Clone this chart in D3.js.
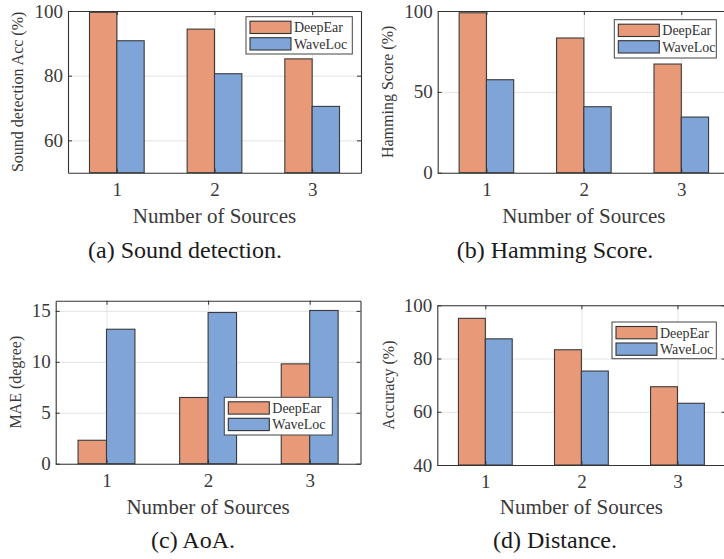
<!DOCTYPE html>
<html>
<head>
<meta charset="utf-8">
<script src="https://cdn.jsdelivr.net/npm/d3@7"></script>
<style>
  body { margin: 0; background: #fff; }
</style>
</head>
<body>
<svg id="fig" width="724" height="559"></svg>
<script>
// categories and series
const sources = [1, 2, 3];
const seriesNames = ["DeepEar", "WaveLoc"];
const seriesColors = ["#e89a78", "#7fa4d8"];

// values
const detectDeepEar = [99.6, 94.4, 85.2];
const detectWaveLoc = [90.8, 80.6, 70.5];
const hammingDeepEar = [98.9, 83.3, 67.2];
const hammingWaveLoc = [57.5, 40.8, 34.4];
const aoaDeepEar = [2.3, 6.5, 9.8];
const aoaWaveLoc = [13.2, 14.84, 15.04];
const distDeepEar = [95.1, 83.3, 69.4];
const distWaveLoc = [87.4, 75.3, 63.2];

// tick labels
const detectTicks = [60, 80, 100];
const hammingTicks = [0, 50, 100];
const aoaTicks = [0, 5, 10, 15];
const distTicks = [40, 60, 80, 100];

const FONT = '"Liberation Serif", "Times New Roman", "DejaVu Serif", serif';

const panels = [
  { box: [68, 11, 361, 172.7], yDomain: [50, 100], yTicks: detectTicks,
    values: [detectDeepEar, detectWaveLoc], ylabel: "Sound detection Acc (%)", ylabelX: 23,
    caption: "(a) Sound detection.", capX: 185, capY: 258, xlabY: 222.7,
    legend: [246, 16.7, 106.3, 37.3] },
  { box: [437.7, 11, 730, 172.7], yDomain: [0, 100], yTicks: hammingTicks,
    values: [hammingDeepEar, hammingWaveLoc], ylabel: "Hamming Score (%)", ylabelX: 393,
    caption: "(b) Hamming Score.", capX: 555, capY: 258, xlabY: 222.7,
    legend: [614.3, 19.7, 102, 38.3] },
  { box: [55.7, 300.7, 360.5, 463.7], yDomain: [0, 16], yTicks: aoaTicks,
    values: [aoaDeepEar, aoaWaveLoc], ylabel: "MAE (degree)", ylabelX: 21,
    caption: "(c) AoA.", capX: 193, capY: 548, xlabY: 514.3,
    legend: [224.3, 397.3, 108, 37.7] },
  { box: [437.3, 305.3, 725.5, 465], yDomain: [40, 100], yTicks: distTicks,
    values: [distDeepEar, distWaveLoc], ylabel: "Accuracy (%)", ylabelX: 394,
    caption: "(d) Distance.", capX: 555, capY: 548, xlabY: 514.3,
    legend: [612, 322, 104.3, 36.7] }
];

const svg = d3.select("#fig");
const axisColor = "#333";

panels.forEach(p => {
  const [x0, y0, x1, y1] = p.box;
  const g = svg.append("g");

  const x = d3.scaleLinear().domain([0.5, 3.5]).range([x0, x1]);
  const y = d3.scaleLinear().domain(p.yDomain).range([y1, y0]);
  const unit = x(2) - x(1);
  const barW = unit * 0.28;

  // grid
  g.append("g")
    .attr("transform", `translate(0,${y1})`)
    .call(d3.axisBottom(x).tickValues(sources).tickSize(-(y1 - y0)).tickFormat(""))
    .call(a => a.select(".domain").remove())
    .selectAll("line").attr("stroke", "#e3e3e3");
  g.append("g")
    .attr("transform", `translate(${x0},0)`)
    .call(d3.axisLeft(y).tickValues(p.yTicks).tickSize(-(x1 - x0)).tickFormat(""))
    .call(a => a.select(".domain").remove())
    .selectAll("line").attr("stroke", "#e3e3e3");

  // bars
  p.values.forEach((vals, si) => {
    g.append("g").selectAll("rect")
      .data(vals)
      .join("rect")
      .attr("x", (d, i) => x(sources[i]) - barW + si * barW)
      .attr("y", d => y(d))
      .attr("width", barW)
      .attr("height", d => y1 - y(d))
      .attr("fill", seriesColors[si])
      .attr("stroke", "#3a3a3a")
      .attr("stroke-width", 1.1);
  });

  // axes (ticks inward, box on)
  const styleAxis = a => {
    a.attr("font-family", FONT);
    a.select(".domain").attr("stroke", axisColor).attr("stroke-width", 1.1);
    a.selectAll(".tick line").attr("stroke", axisColor);
    a.selectAll("text").attr("fill", "#3a3a3a").style("font-family", FONT).style("font-size", "19px");
  };
  g.append("g")
    .attr("transform", `translate(0,${y1})`)
    .call(d3.axisBottom(x).tickValues(sources).tickFormat(d3.format("d"))
      .tickSizeInner(-4).tickSizeOuter(0).tickPadding(10))
    .call(styleAxis);
  g.append("g")
    .attr("transform", `translate(0,${y0})`)
    .call(d3.axisTop(x).tickValues(sources).tickSizeInner(-4).tickSizeOuter(0).tickFormat(""))
    .call(styleAxis);
  g.append("g")
    .attr("transform", `translate(${x0},0)`)
    .call(d3.axisLeft(y).tickValues(p.yTicks).tickFormat(d3.format("d"))
      .tickSizeInner(-4).tickSizeOuter(0).tickPadding(5))
    .call(styleAxis);
  g.append("g")
    .attr("transform", `translate(${x1},0)`)
    .call(d3.axisRight(y).tickValues(p.yTicks).tickSizeInner(-4).tickSizeOuter(0).tickFormat(""))
    .call(styleAxis);

  // axis labels
  g.append("text")
    .attr("x", (x0 + x1) / 2).attr("y", p.xlabY)
    .attr("text-anchor", "middle")
    .attr("fill", "#3a3a3a")
    .style("font-family", FONT)
    .style("font-size", "21px")
    .text("Number of Sources");
  g.append("text")
    .attr("transform", `translate(${p.ylabelX},${(y0 + y1) / 2}) rotate(-90)`)
    .attr("text-anchor", "middle")
    .attr("fill", "#3a3a3a")
    .style("font-family", FONT)
    .style("font-size", "16px")
    .text(p.ylabel);

  // caption
  g.append("text")
    .attr("x", p.capX).attr("y", p.capY)
    .attr("text-anchor", "middle")
    .attr("fill", "#1a1a1a")
    .style("font-family", FONT)
    .style("font-size", "24px")
    .text(p.caption);

  // legend
  const [lx, ly, lw, lh] = p.legend;
  const lg = g.append("g");
  lg.append("rect")
    .attr("x", lx).attr("y", ly).attr("width", lw).attr("height", lh)
    .attr("fill", "#fff").attr("stroke", "#444").attr("stroke-width", 1);
  seriesNames.forEach((name, si) => {
    const ry = ly + 4.5 + si * 16.5;
    lg.append("rect")
      .attr("x", lx + 4).attr("y", ry).attr("width", 41).attr("height", 12.3)
      .attr("fill", seriesColors[si]).attr("stroke", "#333").attr("stroke-width", 1.1);
    lg.append("text")
      .attr("x", lx + 48).attr("y", ry + 11)
      .attr("fill", "#333")
      .style("font-family", FONT)
      .style("font-size", "14px")
      .text(name);
  });
});
</script>
</body>
</html>
